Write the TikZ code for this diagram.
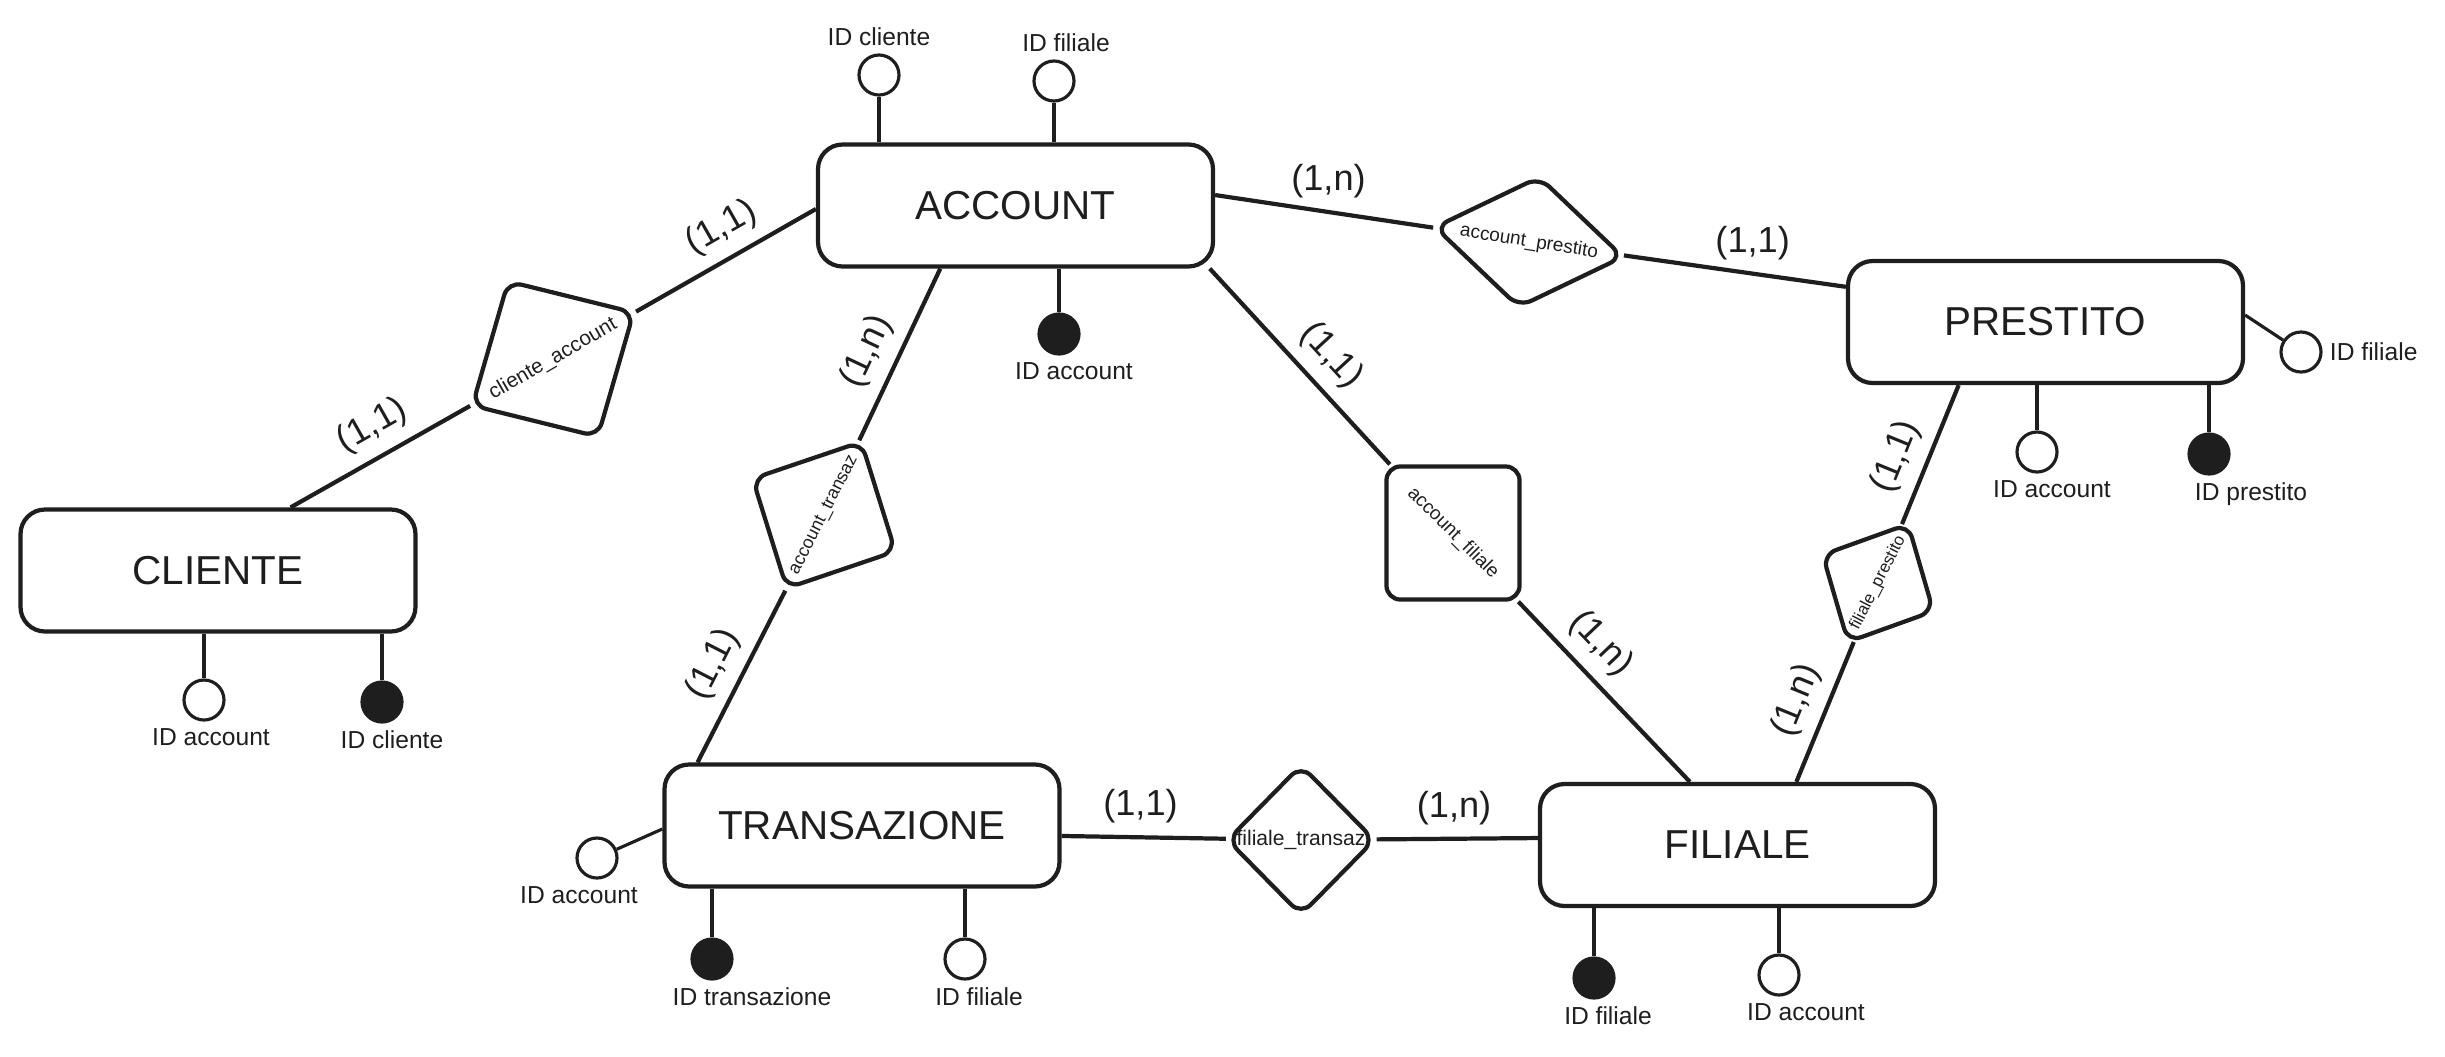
\documentclass[tikz,border=0pt]{standalone}
\usepackage{fontspec}
\setmainfont{Liberation Sans}
\usetikzlibrary{shapes.geometric}
\definecolor{ink}{HTML}{1E1E1E}
\newcommand\fsz[1]{\fontsize{#1}{#1}\selectfont}

\begin{document}
\begin{tikzpicture}[color=ink, line width=1.2pt,
  entity/.style={draw, rounded corners=7pt, minimum width=3.95cm, minimum height=1.22cm, font=\fsz{11.5}},
  rel/.style={draw, diamond, rounded corners=4pt, inner sep=0pt},
  card/.style={above, font=\fsz{10.3}},
  attr/.style={draw, circle, line width=.9pt, minimum size=.4cm, inner sep=0pt},
  key/.style={attr, fill=ink},
  lbl/.style={font=\fsz{7}, inner sep=1.5pt},
  stem/.style={line width=.9pt}]
\useasboundingbox (0,0) rectangle (24.45,-10.56);

\node[entity] (account) at (10.155,-2.055) {ACCOUNT};
\node[entity] (cliente) at (2.18,-5.705) {CLIENTE};
\node[entity] (transaz) at (8.62,-8.255) {TRANSAZIONE};
\node[entity] (filiale) at (17.375,-8.45) {FILIALE};
\node[entity] (prestito) at (20.455,-3.22) {PRESTITO};

\node[rel, rotate=30, minimum width=1.88cm, minimum height=1.81cm, font=\fsz{5.9}] (cliacc) at (5.53,-3.59) {cliente\_account};
\node[rel, rotate=63, minimum width=1.66cm, minimum height=1.62cm, font=\fsz{5.1}] (acctra) at (8.24,-5.15) {account\_transaz};
\node[rel, rotate=-9, aspect=1.44, minimum width=1.92cm, minimum height=1.33cm, font=\fsz{5.4}] (accpre) at (15.29,-2.42) {account\_prestito};
\node[rel, rotate=-45, minimum width=1.9cm, minimum height=1.9cm, font=\fsz{5.4}] (accfil) at (14.53,-5.33) {account\_filiale};
\node[rel, rotate=63, minimum width=1.34cm, minimum height=1.26cm, font=\fsz{4.8}] (filpre) at (18.78,-5.83) {filiale\_prestito};
\node[rel, minimum width=1.48cm, minimum height=1.51cm, font=\fsz{6}] (filtra) at (13.01,-8.40) {filiale\_transaz};

\draw (cliente.41.5) -- node[card, sloped, pos=.54]{(1,1)} (cliacc) -- node[card, sloped, pos=.56]{(1,1)} (account.181.6);
\draw (account.220.6) -- node[card, sloped, pos=.56]{(1,n)} (acctra) -- node[card, sloped, pos=.51]{(1,1)} (transaz.159);
\draw (account.3.3) -- node[card, pos=.52]{(1,n)} (accpre) -- node[card, pos=.58]{(1,1)} (prestito.170.7);
\draw (account.-18) -- node[card, sloped, pos=.55]{(1,1)} (accfil) -- node[card, sloped, pos=.35]{(1,n)} (filiale.127.9);
\draw (prestito.216.8) -- node[card, sloped, pos=.6]{(1,1)} (filpre) -- node[card, sloped, pos=.5]{(1,n)} (filiale.47.7);
\draw (transaz.-3.9) -- node[card, pos=.48]{(1,1)} (filtra) -- node[card, pos=.48]{(1,n)} (filiale.178.5);

\node[attr, label={[lbl]above:ID cliente}] (a-idc) at (8.79,-.75) {};
\node[attr, label={[lbl, xshift=.12cm]above:ID filiale}] (a-idf) at (10.54,-.81) {};
\node[key, label={[lbl, xshift=.15cm]below:ID account}] (a-ida) at (10.59,-3.34) {};
\draw[stem] (a-idc) -- (a-idc |- account.north);
\draw[stem] (a-idf) -- (a-idf |- account.north);
\draw[stem] (a-ida) -- (a-ida |- account.south);

\node[attr, label={[lbl, xshift=.07cm]below:ID account}] (c-ida) at (2.04,-7.00) {};
\node[key, label={[lbl, xshift=.1cm]below:ID cliente}] (c-idc) at (3.82,-7.02) {};
\draw[stem] (c-ida) -- (c-ida |- cliente.south);
\draw[stem] (c-idc) -- (c-idc |- cliente.south);

\node[attr, label={[lbl, xshift=-.18cm]below:ID account}] (t-ida) at (5.97,-8.58) {};
\node[key, label={[lbl, xshift=.4cm]below:ID transazione}] (t-idt) at (7.12,-9.59) {};
\node[attr, label={[lbl, xshift=.14cm]below:ID filiale}] (t-idf) at (9.65,-9.59) {};
\draw[stem] (t-ida) -- (transaz.181.6);
\draw[stem] (t-idt) -- (t-idt |- transaz.south);
\draw[stem] (t-idf) -- (t-idf |- transaz.south);

\node[key, label={[lbl, xshift=.14cm]below:ID filiale}] (f-idf) at (15.94,-9.78) {};
\node[attr, label={[lbl, xshift=.27cm]below:ID account}] (f-ida) at (17.79,-9.75) {};
\draw[stem] (f-idf) -- (f-idf |- filiale.south);
\draw[stem] (f-ida) -- (f-ida |- filiale.south);

\node[attr, label={[lbl]right:ID filiale}] (p-idf) at (23.01,-3.52) {};
\node[attr, label={[lbl, xshift=.15cm]below:ID account}] (p-ida) at (20.37,-4.52) {};
\node[key, label={[lbl, xshift=.42cm]below:ID prestito}] (p-idp) at (22.09,-4.54) {};
\draw[stem] (p-idf) -- (prestito.2.3);
\draw[stem] (p-ida) -- (p-ida |- prestito.south);
\draw[stem] (p-idp) -- (p-idp |- prestito.south);
\end{tikzpicture}
\end{document}
